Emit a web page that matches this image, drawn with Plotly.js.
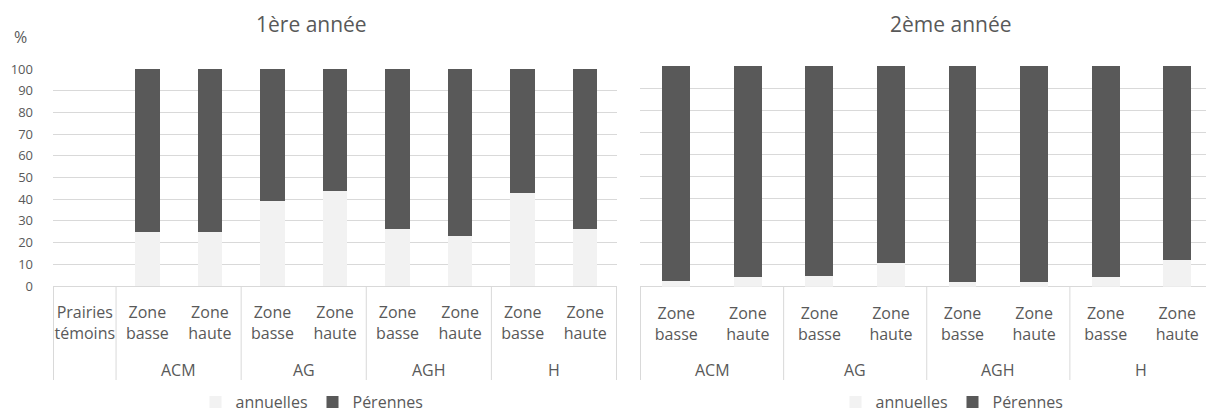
<!DOCTYPE html>
<html>
<head>
<meta charset="utf-8">
<script src="https://cdn.plot.ly/plotly-3.0.1.min.js"></script>
<style>
html, body { margin: 0; padding: 0; overflow: hidden; background: #ffffff; }
#chart { width: 1214px; height: 414px; }
</style>
</head>
<body>
<div id="chart"></div>
<script>
// ---- Data ----
const groups1 = ["", "ACM", "ACM", "AG", "AG", "AGH", "AGH", "H", "H"];
const subs1 = ["Prairies<br>témoins", "Zone<br>basse", "Zone<br>haute", "Zone<br>basse", "Zone<br>haute",
               "Zone<br>basse", "Zone<br>haute", "Zone<br>basse", "Zone<br>haute"];
const annuelles1 = [0, 24.7, 24.7, 39.2, 43.6, 26.3, 22.9, 42.7, 26.3];
const perennes1  = [0, 75.3, 75.3, 60.8, 56.4, 73.7, 77.1, 57.3, 73.7];

const groups2 = ["ACM", "ACM", "AG", "AG", "AGH", "AGH", "H", "H"];
const subs2 = ["Zone<br>basse", "Zone<br>haute", "Zone<br>basse", "Zone<br>haute",
               "Zone<br>basse", "Zone<br>haute", "Zone<br>basse", "Zone<br>haute"];
const annuelles2 = [2.5, 4.3, 4.8, 10.6, 2.0, 2.2, 4.3, 12.1];
const perennes2  = [97.5, 95.7, 95.2, 89.4, 98.0, 97.8, 95.7, 87.9];

const yTicks = [0, 10, 20, 30, 40, 50, 60, 70, 80, 90, 100];
const seriesNames = ["annuelles", "Pérennes"];
const titles = ["1ère année", "2ème année"];
const yUnit = "%";

// ---- Styling ----
const W = 1214, H = 414;
const FONT = "Open Sans, sans-serif";
const TXT = "#595959";
const C_ANN = "#f2f2f2", C_PER = "#595959";
const GRID = "#d9d9d9";
const px = x => x / W;
const py = y => 1 - y / H;

function keys(groups, subs) {
  return subs.map((s, i) => (groups[i] ? groups[i] + " " : "") + s.replace("<br>", " "));
}
const k1 = keys(groups1, subs1);
const k2 = keys(groups2, subs2);

const traces = [
  {type: "bar", x: k1, y: annuelles1, name: seriesNames[0], marker: {color: C_ANN},
   xaxis: "x", yaxis: "y", legend: "legend"},
  {type: "bar", x: k1, y: perennes1, name: seriesNames[1], marker: {color: C_PER},
   xaxis: "x", yaxis: "y", legend: "legend"},
  {type: "bar", x: k2, y: annuelles2, name: seriesNames[0], marker: {color: C_ANN},
   xaxis: "x2", yaxis: "y2", legend: "legend2"},
  {type: "bar", x: k2, y: perennes2, name: seriesNames[1], marker: {color: C_PER},
   xaxis: "x2", yaxis: "y2", legend: "legend2"}
];

function dividers(groups, xref, yref, depth) {
  const out = [];
  const n = groups.length;
  for (let i = 0; i <= n; i++) {
    if (i === 0 || i === n || groups[i] !== groups[i - 1]) {
      out.push({type: "line", xref: xref, yref: yref, x0: i - 0.5, x1: i - 0.5, y0: 0, y1: -depth,
                line: {color: GRID, width: 1}});
    }
  }
  return out;
}
function groupLabels(groups, xref, yref, yPos) {
  const out = [];
  const seen = {};
  groups.forEach((g, i) => {
    if (!g) return;
    if (!seen[g]) seen[g] = [];
    seen[g].push(i);
  });
  Object.keys(seen).forEach(g => {
    const idx = seen[g];
    const mid = (idx[0] + idx[idx.length - 1]) / 2;
    out.push({xref: xref, yref: yref, x: mid, y: yPos, text: g, showarrow: false,
              xanchor: "center", yanchor: "middle", font: {family: FONT, size: 16, color: TXT}});
  });
  return out;
}

const yBase = {
  range: [0, 100], tickvals: yTicks, showgrid: true, gridcolor: GRID, gridwidth: 1,
  zeroline: true, zerolinecolor: GRID, zerolinewidth: 1, showline: false, ticks: "",
  fixedrange: true, automargin: false
};
const xBase = {
  type: "category", showgrid: false, showline: false, zeroline: false, ticks: "",
  tickfont: {family: FONT, size: 16, color: TXT}, tickangle: 0, automargin: false,
  ticklabelstandoff: 15
};

const legendBase = {
  orientation: "h", xanchor: "center", yanchor: "middle", yref: "paper", y: py(402),
  font: {family: FONT, size: 16, color: TXT}, bgcolor: "rgba(0,0,0,0)", traceorder: "normal",
  itemwidth: 30
};

const layout = {
  width: W, height: H,
  margin: {l: 0, r: 0, t: 0, b: 0, pad: 0, autoexpand: false},
  paper_bgcolor: "#ffffff", plot_bgcolor: "#ffffff",
  font: {family: FONT, color: TXT},
  barmode: "stack", bargap: 0.61,
  showlegend: true,
  xaxis: Object.assign({}, xBase, {domain: [px(53), px(617)], anchor: "y",
         tickvals: k1, ticktext: subs1}),
  yaxis: Object.assign({}, yBase, {domain: [py(286), py(69)], anchor: "x",
         showticklabels: true, tickfont: {family: FONT, size: 13, color: TXT}, ticklabelstandoff: 19}),
  xaxis2: Object.assign({}, xBase, {domain: [px(640), px(1213.5)], anchor: "y2",
         tickvals: k2, ticktext: subs2}),
  yaxis2: Object.assign({}, yBase, {domain: [py(286.7), py(66)], anchor: "x2",
         showticklabels: false}),
  legend: Object.assign({}, legendBase, {x: px(312)}),
  legend2: Object.assign({}, legendBase, {x: px(952)}),
  shapes: [].concat(
    dividers(groups1, "x", "y domain", (380 - 286) / 217),
    dividers(groups2, "x2", "y2 domain", (380 - 286.7) / 220.7)
  ),
  annotations: [].concat(
    groupLabels(groups1, "x", "y domain", -(370 - 286) / 217),
    groupLabels(groups2, "x2", "y2 domain", -(370 - 286.7) / 220.7),
    [
      {xref: "paper", yref: "paper", x: px(311), y: py(24), text: titles[0], showarrow: false,
       xanchor: "center", yanchor: "middle", font: {family: FONT, size: 21, color: TXT}},
      {xref: "paper", yref: "paper", x: px(951), y: py(24), text: titles[1], showarrow: false,
       xanchor: "center", yanchor: "middle", font: {family: FONT, size: 21, color: TXT}},
      {xref: "paper", yref: "paper", x: px(20), y: py(37), text: yUnit, showarrow: false,
       xanchor: "center", yanchor: "middle", font: {family: FONT, size: 16, color: TXT}}
    ]
  )
};

Plotly.newPlot("chart", traces, layout, {staticPlot: true, displayModeBar: false});
</script>
</body>
</html>
